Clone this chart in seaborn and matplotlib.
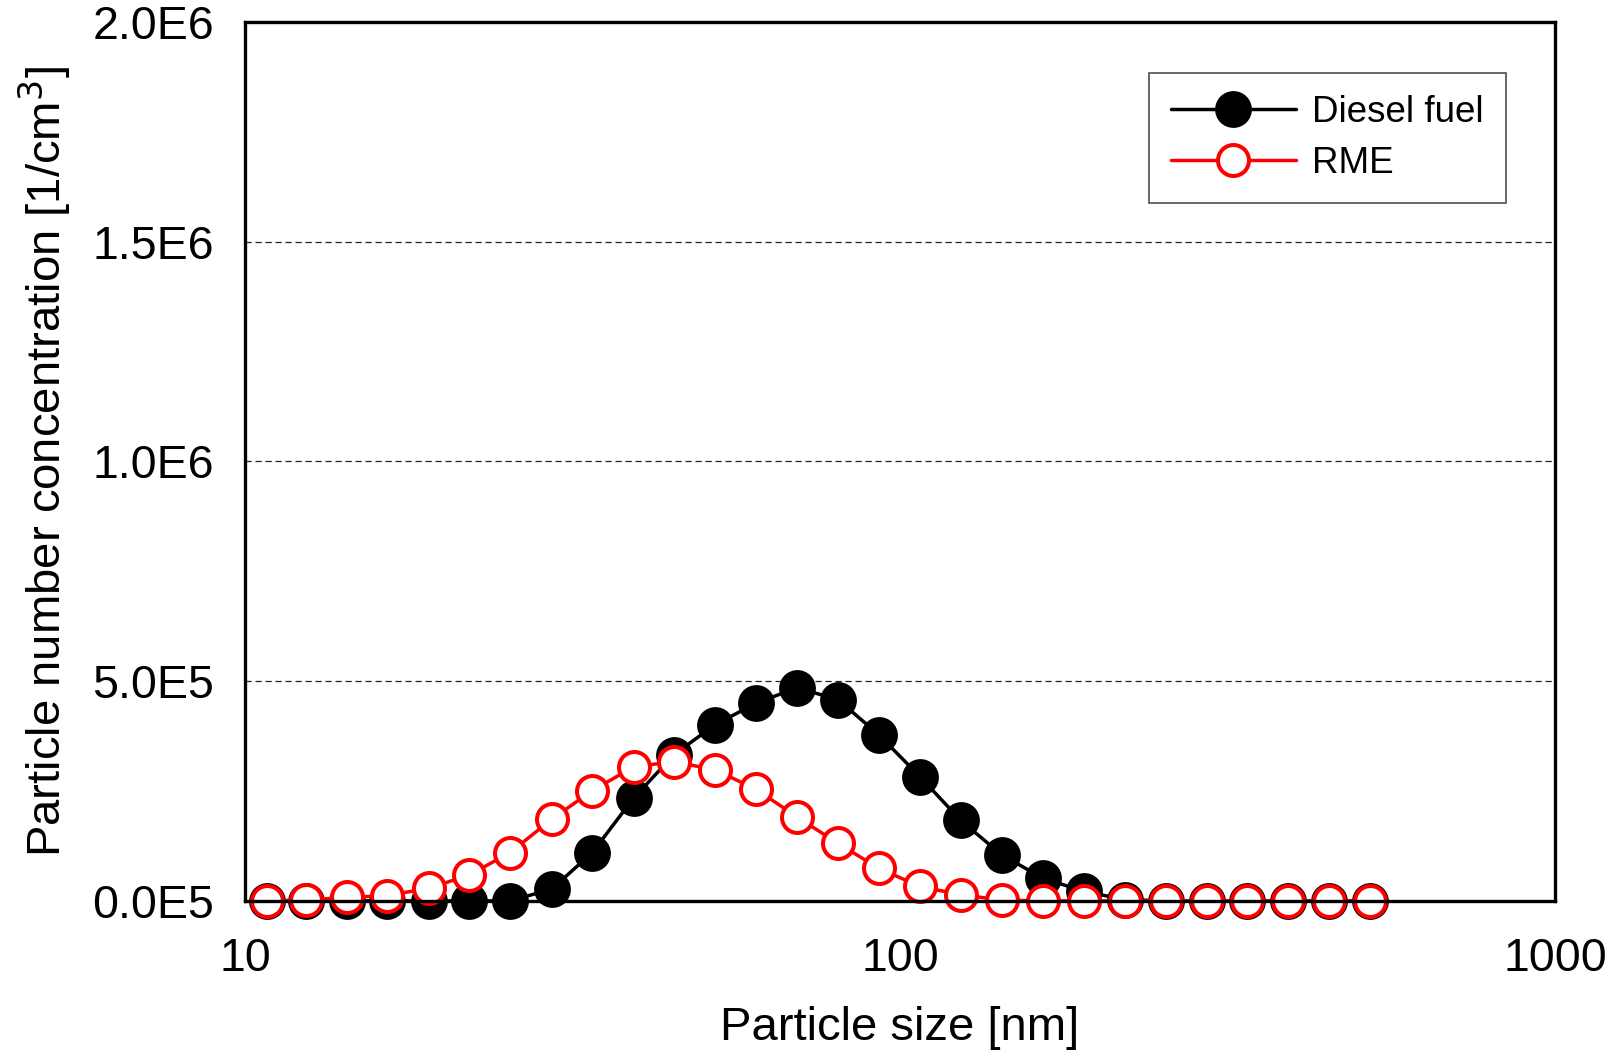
import matplotlib
matplotlib.use("Agg")
import matplotlib.pyplot as plt
import seaborn as sns
import pandas as pd
import numpy as np
from matplotlib.ticker import FixedLocator, NullFormatter, LogLocator

# particle size channels [nm]
size_nm = [10.8, 12.4, 14.3, 16.5, 19.1, 22.0, 25.4, 29.4, 33.9, 39.2,
           45.2, 52.2, 60.3, 69.6, 80.4, 92.8, 107.2, 123.8, 142.9, 165.0,
           190.6, 220.1, 254.2, 293.6, 339.0, 391.5, 452.1, 522.1]

# number concentration [1/cm3]
diesel = [0, 0, 0, 0, 0, 0, 0, 27000, 110000, 234000,
          333000, 401000, 450000, 485000, 458000, 378000, 283000, 183000, 105000, 52000,
          22000, 3000, 0, 0, 0, 0, 0, 0]
rme = [0, 2000, 8000, 12000, 29000, 59000, 110000, 186000, 251000, 305000,
       317000, 298000, 254000, 191000, 131000, 74000, 33000, 14000, 2000, 0,
       0, 0, 0, 0, 0, 0, 0, 0]

series_names = ["Diesel fuel", "RME"]
y_ticks = [0, 5e5, 1e6, 1.5e6, 2e6]
y_tick_labels = ["0.0E5", "5.0E5", "1.0E6", "1.5E6", "2.0E6"]
x_ticks = [10, 100, 1000]
x_tick_labels = ["10", "100", "1000"]

df_d = pd.DataFrame({"size": size_nm, "conc": diesel})
df_r = pd.DataFrame({"size": size_nm, "conc": rme})

sns.set_style("white")
plt.rcParams["font.family"] = ["Liberation Sans", "DejaVu Sans"]
plt.rcParams["text.color"] = "black"
plt.rcParams["axes.labelcolor"] = "black"
plt.rcParams["xtick.color"] = "black"
plt.rcParams["ytick.color"] = "black"

fig = plt.figure(figsize=(16.2, 10.5), dpi=100)
ax = fig.add_axes([0.1512, 0.142, 0.8088, 0.837])

sns.lineplot(data=df_d, x="size", y="conc", ax=ax, color="black", lw=2.5,
             marker="o", markersize=25, markerfacecolor="black",
             markeredgecolor="black", markeredgewidth=1.5,
             label=series_names[0], zorder=3, clip_on=False)
sns.lineplot(data=df_r, x="size", y="conc", ax=ax, color="#ff0000", lw=2.5,
             marker="o", markersize=22.3, markerfacecolor="white",
             markeredgecolor="#ff0000", markeredgewidth=2.9,
             label=series_names[1], zorder=4, clip_on=False)

ax.set_xscale("log")
ax.set_xlim(10, 1000)
ax.set_ylim(0, 2e6)

ax.xaxis.set_major_locator(FixedLocator(x_ticks))
ax.set_xticklabels(x_tick_labels)
ax.xaxis.set_minor_locator(LogLocator(base=10, subs=np.arange(2, 10)))
ax.xaxis.set_minor_formatter(NullFormatter())

ax.set_yticks(y_ticks)
ax.set_yticklabels(y_tick_labels)
ax.yaxis.set_minor_locator(FixedLocator([2.5e5, 7.5e5, 1.25e6, 1.75e6]))

ax.tick_params(axis="both", which="major", direction="in", length=19, width=2.2,
               labelsize=33.5, color="black", labelcolor="black")
ax.tick_params(axis="x", which="major", pad=26)
ax.tick_params(axis="y", which="major", pad=22)
ax.tick_params(axis="both", which="minor", direction="in", length=9, width=2.2,
               color="black")
ax.tick_params(top=False, right=False, which="both")

for s in ax.spines.values():
    s.set_visible(True)
    s.set_color("black")
    s.set_linewidth(2.4)
    s.set_zorder(5)

ax.yaxis.grid(True, which="major", linestyle=(0, (5, 3)), linewidth=0.9, color="#222222")
ax.xaxis.grid(False)
ax.set_axisbelow(True)

ax.set_xlabel("Particle size [nm]", fontsize=34, labelpad=18)
ax.set_ylabel("Particle number concentration [1/cm$^3$]", fontsize=34, labelpad=14)

leg = ax.legend(loc="upper right", bbox_to_anchor=(0.9625, 0.9425), fontsize=26.5,
                frameon=True, fancybox=False, edgecolor="#333333",
                handlelength=3.4, handletextpad=0.45, borderpad=0.6,
                labelspacing=0.45, borderaxespad=0)
leg.get_frame().set_linewidth(1.3)

fig.savefig("out.png", dpi=100)
